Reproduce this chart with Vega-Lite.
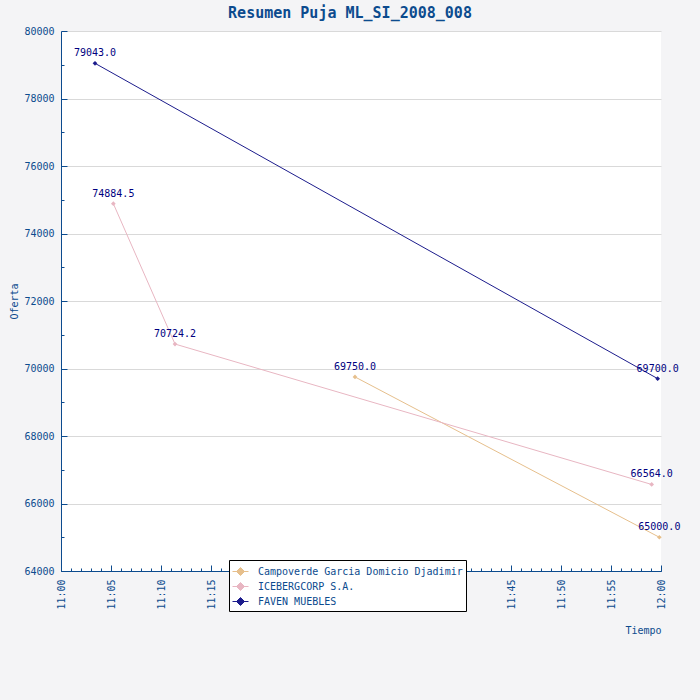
{
  "$schema": "https://vega.github.io/schema/vega-lite/v6.json",
  "width": 600,
  "height": 540,
  "autosize": "none",
  "padding": {"left": 61, "top": 31, "right": 39, "bottom": 129},
  "background": "#f4f4f6",
  "title": {
    "text": "Resumen Puja ML_SI_2008_008",
    "font": "DejaVu Sans Mono",
    "fontSize": 15,
    "fontWeight": "bold",
    "color": "#0c4b8e",
    "anchor": "middle",
    "dx": -11,
    "offset": 5
  },
  "config": {
    "view": {"stroke": null, "fill": "white"},
    "axis": {
      "labelFont": "DejaVu Sans Mono",
      "labelFontSize": 10,
      "labelColor": "#0c4b8e",
      "titleFont": "DejaVu Sans Mono",
      "titleFontSize": 10,
      "titleFontWeight": "normal",
      "titleColor": "#0c4b8e",
      "domainColor": "#0c4b8e",
      "tickColor": "#0c4b8e",
      "gridColor": "#d9d9d9"
    }
  },
  "data": {
    "values": [
      {"postor": "Campoverde Garcia Domicio Djadimir", "hora": "2008-01-01T11:29:24", "oferta": 69750.0},
      {"postor": "Campoverde Garcia Domicio Djadimir", "hora": "2008-01-01T11:59:50", "oferta": 65000.0},
      {"postor": "ICEBERGCORP S.A.", "hora": "2008-01-01T11:05:14", "oferta": 74884.5},
      {"postor": "ICEBERGCORP S.A.", "hora": "2008-01-01T11:11:24", "oferta": 70724.2},
      {"postor": "ICEBERGCORP S.A.", "hora": "2008-01-01T11:59:04", "oferta": 66564.0},
      {"postor": "FAVEN MUEBLES", "hora": "2008-01-01T11:03:24", "oferta": 79043.0},
      {"postor": "FAVEN MUEBLES", "hora": "2008-01-01T11:59:40", "oferta": 69700.0}
    ]
  },
  "encoding": {
    "x": {
      "field": "hora",
      "type": "temporal",
      "scale": {
        "domain": [
          {"year": 2008, "month": 1, "date": 1, "hours": 11, "minutes": 0},
          {"year": 2008, "month": 1, "date": 1, "hours": 12, "minutes": 0}
        ]
      }
    },
    "y": {
      "field": "oferta",
      "type": "quantitative",
      "scale": {"domain": [64000, 80000], "nice": false, "zero": false}
    },
    "color": {
      "field": "postor",
      "type": "nominal",
      "sort": null,
      "scale": {
        "domain": ["Campoverde Garcia Domicio Djadimir", "ICEBERGCORP S.A.", "FAVEN MUEBLES"],
        "range": ["#e6bf8c", "#e8b6c2", "#1c1c8c"]
      },
      "legend": {
        "orient": "none",
        "legendX": 168,
        "legendY": 529,
        "title": null,
        "strokeColor": "black",
        "fillColor": "white",
        "padding": 3,
        "labelFont": "DejaVu Sans Mono",
        "labelFontSize": 10,
        "labelColor": "#0c4b8e",
        "labelLimit": 400,
        "labelOffset": 9,
        "rowPadding": 0,
        "symbolType": "M-1,0H1M0,-0.5L0.5,0L0,0.5L-0.5,0Z",
        "symbolSize": 256,
        "symbolStrokeWidth": 1,
        "symbolOpacity": 1
      }
    }
  },
  "layer": [
    {
      "mark": {"type": "line", "strokeWidth": 1},
      "encoding": {
        "x": {
          "field": "hora",
          "type": "temporal",
          "axis": {
            "orient": "bottom",
            "title": "Tiempo",
            "titleAnchor": "end",
            "titlePadding": 16,
            "format": "%H:%M",
            "values": [
              {"year": 2008, "month": 1, "date": 1, "hours": 11, "minutes": 0},
              {"year": 2008, "month": 1, "date": 1, "hours": 11, "minutes": 5},
              {"year": 2008, "month": 1, "date": 1, "hours": 11, "minutes": 10},
              {"year": 2008, "month": 1, "date": 1, "hours": 11, "minutes": 15},
              {"year": 2008, "month": 1, "date": 1, "hours": 11, "minutes": 20},
              {"year": 2008, "month": 1, "date": 1, "hours": 11, "minutes": 25},
              {"year": 2008, "month": 1, "date": 1, "hours": 11, "minutes": 30},
              {"year": 2008, "month": 1, "date": 1, "hours": 11, "minutes": 35},
              {"year": 2008, "month": 1, "date": 1, "hours": 11, "minutes": 40},
              {"year": 2008, "month": 1, "date": 1, "hours": 11, "minutes": 45},
              {"year": 2008, "month": 1, "date": 1, "hours": 11, "minutes": 50},
              {"year": 2008, "month": 1, "date": 1, "hours": 11, "minutes": 55},
              {"year": 2008, "month": 1, "date": 1, "hours": 12, "minutes": 0}
            ],
            "labelAngle": 270,
            "labelPadding": 14,
            "tickSize": -6,
            "grid": false
          }
        },
        "y": {
          "field": "oferta",
          "type": "quantitative",
          "axis": {
            "orient": "left",
            "title": "Oferta",
            "titlePadding": 4,
            "format": "d",
            "values": [64000, 66000, 68000, 70000, 72000, 74000, 76000, 78000, 80000],
            "tickSize": -6,
            "labelPadding": 13,
            "grid": true
          }
        }
      }
    },
    {
      "mark": {"type": "point", "shape": "diamond", "filled": true, "size": 22, "opacity": 1},
      "encoding": {
        "x": {
          "field": "hora",
          "type": "temporal",
          "axis": {
            "orient": "bottom",
            "title": null,
            "labels": false,
            "domain": false,
            "grid": false,
            "tickCount": 60,
            "tickSize": -3
          }
        },
        "y": {
          "field": "oferta",
          "type": "quantitative",
          "axis": {
            "orient": "left",
            "title": null,
            "labels": false,
            "domain": false,
            "grid": false,
            "values": [65000, 67000, 69000, 71000, 73000, 75000, 77000, 79000],
            "tickSize": -3
          }
        }
      }
    },
    {
      "mark": {"type": "text", "align": "center", "baseline": "alphabetic", "dy": -7, "font": "DejaVu Sans Mono", "fontSize": 10},
      "encoding": {
        "x": {"field": "hora", "type": "temporal", "axis": null},
        "y": {"field": "oferta", "type": "quantitative", "axis": null},
        "text": {"field": "oferta", "type": "quantitative", "format": ".1f"},
        "color": {"value": "#000080"}
      }
    }
  ],
  "resolve": {"axis": {"x": "independent", "y": "independent"}}
}
